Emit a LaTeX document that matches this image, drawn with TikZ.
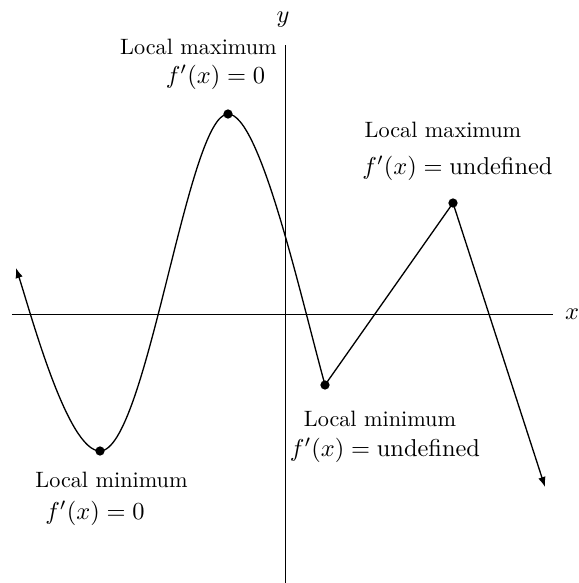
\documentclass[tikz,border=0pt]{standalone}
\usepackage{amsmath}
\usepackage{tikz}
\usetikzlibrary{
  arrows.meta,
  positioning,
  calc
}
\tikzset{
  lbl/.style={inner sep=0pt, scale=1.265},
  eq/.style={inner sep=0pt, scale=1.39},
  pt/.style={circle, fill=black, inner sep=0pt, minimum size=1.85mm},
  axis/.style={line width=0.5pt}
}

\begin{document}
\begin{tikzpicture}[>={Latex[length=2mm,width=1.5mm]}]
  \useasboundingbox (-5.7,-5.38) rectangle (5.88,6.28);
  % axes
  \coordinate (xl) at (-5.46,0);
  \coordinate (xr) at (5.36,0);
  \coordinate (yb) at (0,-5.38);
  \coordinate (yt) at (0,5.38);
  \draw[axis] (xl) -- (xr);
  \draw[axis] (yb) -- (yt);
  \node[eq] (xlab) at (5.74,0) {$x$};
  \node[eq] (ylab) at (-0.04,5.88) {$y$};

  % turning points
  \coordinate (start) at (-5.38,0.92);
  \coordinate (minA) at (-3.7,-2.74);
  \coordinate (maxA) at (-1.14,4.0);
  \coordinate (minB) at (0.8,-1.42);
  \coordinate (maxB) at (3.36,2.22);
  \coordinate (stop) at (5.2,-3.46);

  \draw[<->, line width=0.75pt] (start) .. controls (-5.08,0) and (-4.35,-2.74) .. (minA)
    .. controls (-2.77,-2.74) and (-1.95,4.0) .. (maxA)
    .. controls (-0.5,4.0) and (0.3,0.4) .. (minB) -- (maxB) -- (stop);

  \node[pt] at (minA) {};
  \node[pt] at (maxA) {};
  \node[pt] at (minB) {};
  \node[pt] at (maxB) {};

  % labels
  \node[lbl] (maxAtxt) at (-1.73,5.34) {Local maximum};
  \node[eq] (maxAeq) at (-1.39,4.74) {$f'(x) = 0$};
  \node[lbl] (maxBtxt) at (3.16,3.68) {Local maximum};
  \node[eq] (maxBeq) at (3.45,2.92) {$f'(x) = \text{undefined}$};
  \node[lbl] (minBtxt) at (1.9,-2.09) {Local minimum};
  \node[eq] (minBeq) at (2.0,-2.72) {$f'(x) = \text{undefined}$};
  \node[lbl] (minAtxt) at (-3.47,-3.32) {Local minimum};
  \node[eq] (minAeq) at (-3.8,-3.98) {$f'(x) = 0$};
\end{tikzpicture}
\end{document}
